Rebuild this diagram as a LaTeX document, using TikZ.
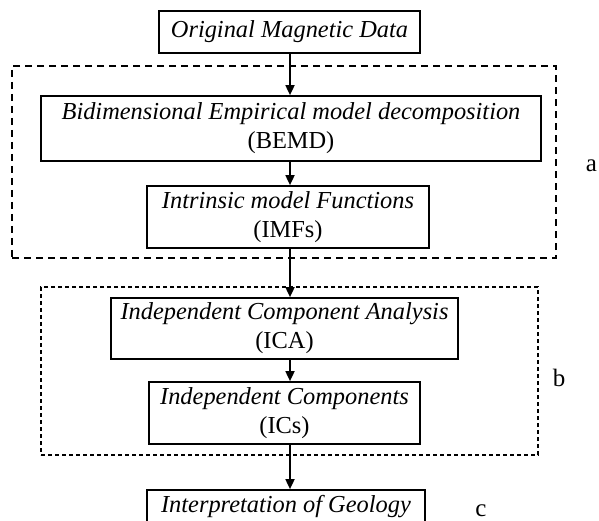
\documentclass[tikz,border=0pt]{standalone}
\usepackage{fontspec}
\setmainfont{Liberation Serif}
\usetikzlibrary{arrows.meta}
\begin{document}
\begin{tikzpicture}[x=1pt,y=-1pt,
  box/.style={draw, line width=1.7pt, inner sep=0pt, align=center, font=\fontsize{24.4}{29}\selectfont},
  grpa/.style={draw, line width=1.6pt, dash pattern=on 7pt off 5pt, inner sep=0pt},
  grpb/.style={draw, line width=1.5pt, dash pattern=on 4pt off 3pt, inner sep=0pt},
  arr/.style={line width=1.7pt, -{Triangle[length=10pt,width=9pt]}},
  lab/.style={font=\fontsize{25}{29}\selectfont, inner sep=0pt, anchor=base}]
\useasboundingbox (0,0) rectangle (599,521);
% group frames
\node[grpa, minimum width=544pt, minimum height=192pt] (ga) at (284,162) {};
\node[grpb, minimum width=497pt, minimum height=168pt] (gb) at (289.5,371) {};
% boxes
\node[box, minimum width=261pt, minimum height=42pt] (orig) at (289.5,32) {\textit{Original Magnetic Data}};
\node[box, minimum width=500pt, minimum height=65pt] (bemd) at (291,128.5) {\textit{Bidimensional Empirical model decomposition}\\(BEMD)};
\node[box, minimum width=282pt, minimum height=62pt] (imf) at (288,217) {\textit{Intrinsic model Functions}\\(IMFs)};
\node[box, minimum width=347pt, minimum height=61pt] (ica) at (284.5,328.5) {\textit{Independent Component Analysis}\\(ICA)};
\node[box, minimum width=271pt, minimum height=62pt] (ics) at (284.5,413) {\textit{Independent Components}\\(ICs)};
\node[box, minimum width=278pt, minimum height=34pt] (geo) at (286,507) {\textit{Interpretation of Geology}};
% arrow column
\coordinate (ax) at (290,0);
\draw[arr] (orig.south -| ax) -- (bemd.north -| ax);
\draw[arr] (bemd.south -| ax) -- (imf.north -| ax);
\draw[arr] (imf.south -| ax) -- (ica.north -| ax);
\draw[arr] (ica.south -| ax) -- (ics.north -| ax);
\draw[arr] (ics.south -| ax) -- (geo.north -| ax);
% labels
\node[lab] (la) at (591.5,172) {a};
\node[lab] (lb) at (559,386) {b};
\node[lab] (lc) at (481,516) {c};
\end{tikzpicture}
\end{document}
